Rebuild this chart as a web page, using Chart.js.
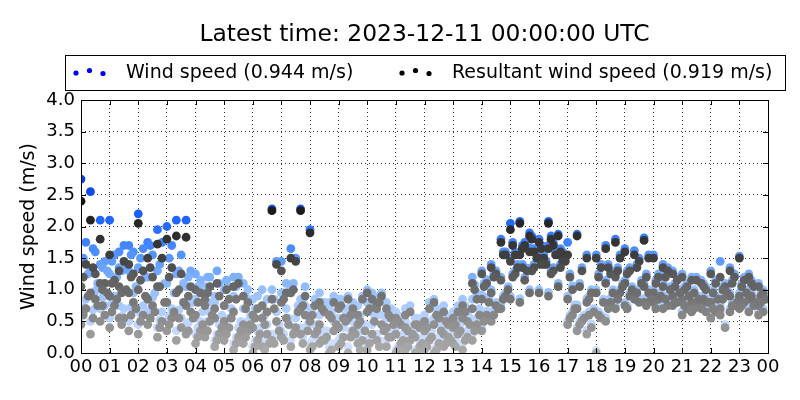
<!DOCTYPE html>
<html>
<head>
<meta charset="utf-8">
<script src="https://cdn.jsdelivr.net/npm/chart.js@4.4.0/dist/chart.umd.min.js"></script>
<style>html,body{margin:0;padding:0;background:#fff;}canvas{display:block;}</style>
</head>
<body>
<canvas id="c" width="800" height="400"></canvas>
<script>
// ---- text ----
const titleText = "Latest time: 2023-12-11 00:00:00 UTC";
const windLabel = "Wind speed (0.944 m/s)";
const resLabel = "Resultant wind speed (0.919 m/s)";
const yAxisLabel = "Wind speed (m/s)";
const xTickLabels = ["00","01","02","03","04","05","06","07","08","09","10","11","12","13","14","15","16","17","18","19","20","21","22","23","00"];
const yTickValues = [0.0,0.5,1.0,1.5,2.0,2.5,3.0,3.5,4.0];

// ---- sample times (hour of day) ----
const timesA = [0.00,0.33,0.67,1.00,1.33,1.67,2.00,2.33,2.67,3.00,3.33,3.67,4.00,4.33,4.67,5.00,5.33,5.67,6.00,6.33,6.67,7.00,7.33,7.67,8.00,8.33,8.67,9.00,9.33,9.67,10.00,10.33,10.67,11.00,11.33,11.67,12.00,12.33,12.67,13.00,13.33,13.67,14.00,14.33,14.67,15.00,15.33,15.67,16.00,16.33,16.67,17.00,17.33,17.67,18.00,18.33,18.67,19.00,19.33,19.67,20.00,20.33,20.67,21.00,21.33,21.67,22.00,22.33,22.67,23.00,23.33,23.67];
const timesB = [0.17,0.50,0.83,1.17,1.50,1.83,2.17,2.50,2.83,3.17,3.50,3.83,4.17,4.50,4.83,5.17,5.50,5.83,6.17,6.50,6.83,7.17,7.50,7.83,8.17,8.50,8.83,9.17,9.50,9.83,10.17,10.50,10.83,11.17,11.50,11.83,12.17,12.50,12.83,13.17,13.50,13.83,14.17,14.50,14.83,15.17,15.50,15.83,16.17,16.50,16.83,17.17,17.50,17.83,18.17,18.50,18.83,19.17,19.50,19.83,20.17,20.50,20.83,21.17,21.50,21.83,22.17,22.50,22.83,23.17,23.50,23.83];
const timesC = [0.08,0.42,0.75,1.08,1.42,1.75,2.08,2.42,2.75,3.08,3.42,3.75,4.08,4.42,4.75,5.08,5.42,5.75,6.08,6.42,6.75,7.08,7.42,7.75,8.08,8.42,8.75,9.08,9.42,9.75,10.08,10.42,10.75,11.08,11.42,11.75,12.08,12.42,12.75,13.08,13.42,13.75,14.08,14.42,14.75,15.08,15.42,15.75,16.08,16.42,16.75,17.08,17.42,17.75,18.08,18.42,18.75,19.08,19.42,19.75,20.08,20.42,20.75,21.08,21.42,21.75,22.08,22.42,22.75,23.08,23.42,23.75];
const timesD = [0.25,0.58,0.92,1.25,1.58,1.92,2.25,2.58,2.92,3.25,3.58,3.92,4.25,4.58,4.92,5.25,5.58,5.92,6.25,6.58,6.92,7.25,7.58,7.92,8.25,8.58,8.92,9.25,9.58,9.92,10.25,10.58,10.92,11.25,11.58,11.92,12.25,12.58,12.92,13.25,13.58,13.92,14.25,14.58,14.92,15.25,15.58,15.92,16.25,16.58,16.92,17.25,17.58,17.92,18.25,18.58,18.92,19.25,19.58,19.92,20.25,20.58,20.92,21.25,21.58,21.92,22.25,22.58,22.92,23.25,23.58,23.92];

// ---- resultant wind speed per day (m/s) ----
const res1 = [2.40,2.10,1.80, 1.55,1.30,1.40, 2.05,1.50,1.72, 1.80,1.85,1.83, 1.00,0.85,0.70, 0.75,1.05,0.90, 0.60,0.75,2.25, 1.30,1.50,2.25, 1.90,0.80,0.60, 0.70,0.85,0.60, 0.95,0.75,0.70, 0.55,0.60,0.45, 0.50,0.80,0.65, 0.55,0.75,1.10, 1.25,1.35,1.75, 1.95,2.05,1.85, 1.75,2.05,1.85, 1.55,1.85,1.50, 1.50,1.65,1.75, 1.60,1.55,1.78, 1.50,1.35,1.25, 1.20,1.15,1.10, 1.25,1.20,1.30, 1.50,1.20,1.05];
const res2 = [1.40,1.25,1.10, 1.15,1.45,1.25, 1.30,1.20,1.50, 1.35,1.25,1.05, 0.95,1.05,0.90, 0.85,1.10,0.80, 0.70,0.65,1.40, 0.95,1.45,0.90, 0.75,0.65,0.80, 0.55,0.70,0.85, 0.85,0.90,0.55, 0.45,0.65,0.40, 0.70,0.55,0.45, 0.65,0.50,0.85, 1.10,1.25,1.55, 1.55,1.70,1.60, 1.50,1.70,1.55, 1.00,1.30,0.95, 1.35,1.25,1.50, 1.30,1.45,1.50, 1.20,1.30,1.15, 1.05,1.15,1.00, 1.10,1.05,1.20, 1.15,1.05,0.95];
const res3 = [1.05,0.95,1.10, 0.90,1.05,0.95, 1.00,0.85,1.05, 0.80,0.95,0.75, 0.60,0.75,0.55, 0.50,0.65,0.45, 0.40,0.55,0.85, 0.80,0.95,0.70, 0.50,0.45,0.60, 0.40,0.55,0.45, 0.65,0.70,0.40, 0.30,0.40,0.25, 0.35,0.45,0.30, 0.40,0.55,0.70, 0.85,0.95,1.15, 1.45,1.55,1.60, 1.50,1.65,1.55, 0.85,0.70,0.80, 0.95,1.10,1.20, 1.10,0.90,1.05, 0.95,1.05,0.90, 0.85,0.80,0.75, 0.80,0.70,0.90, 0.90,0.85,0.75];
const res4 = [0.70,0.85,0.60, 0.75,0.55,0.80, 0.60,0.75,0.50, 0.55,0.40,0.65, 0.35,0.50,0.30, 0.40,0.25,0.35, 0.20,0.30,0.50, 0.55,0.40,0.60, 0.30,0.20,0.35, 0.25,0.35,0.20, 0.30,0.45,0.25, 0.15,0.20,0.10, 0.20,0.15,0.25, 0.30,0.25,0.45, 0.60,0.75,0.90, 1.25,1.15,1.35, 1.40,1.30,1.45, 0.60,0.50,0.40, 0.55,0.80,0.95, 0.90,0.80,0.95, 0.85,0.75,0.80, 0.70,0.75,0.65, 0.65,0.40,0.75, 0.80,0.75,0.65];
const res5 = [0.45,0.30,0.50, 0.40,0.55,0.35, 0.30,0.45,0.25, 0.35,0.20,0.30, 0.15,0.25,0.10, 0.20,0.05,0.15, 0.00,0.10,0.20, 0.25,0.10,0.30, 0.05,0.15,0.00, 0.10,0.00,0.15, 0.05,0.20,0.10, 0.00,0.05,0.00, 0.05,0.00,0.10, 0.15,0.05,0.20, 0.35,0.50,0.70, 0.85,0.80,0.95, 0.95,0.90,1.05, 0.45,0.35,0.30, 0.00,0.50,0.70, 0.75,0.85,0.80, 0.80,0.70,0.75, 0.60,0.65,0.70, 0.55,0.60,0.65, 0.70,0.65,0.60];
const res6 = [1.20,1.35,1.00, 1.10,0.95,1.20, 1.15,1.35,1.05, 1.20,1.00,0.90, 0.80,0.95,1.10, 1.00,0.85,0.70, 0.55,0.45,0.70, 0.85,1.00,0.75, 0.60,0.70,0.55, 0.75,0.60,0.50, 0.70,0.80,0.60, 0.50,0.35,0.45, 0.40,0.60,0.50, 0.45,0.65,1.00, 1.05,1.20,1.55, 1.70,1.65,1.80, 1.65,1.80,1.60, 1.20,1.05,0.85, 1.20,1.35,1.30, 1.25,1.35,1.20, 1.10,1.20,1.05, 1.00,0.95,1.05, 0.95,1.00,1.10, 1.05,1.10,0.90];
const res7 = [0.90,0.75,0.95, 0.85,1.00,0.70, 0.90,0.65,0.80, 0.65,0.80,0.55, 0.45,0.60,0.40, 0.55,0.35,0.45, 0.30,0.15,0.35, 0.45,0.65,0.35, 0.35,0.25,0.45, 0.50,0.30,0.35, 0.50,0.35,0.45, 0.20,0.30,0.15, 0.25,0.35,0.20, 0.35,0.45,0.60, 0.80,0.70,1.00, 1.35,1.30,1.50, 1.40,1.55,1.45, 0.70,0.55,0.65, 0.80,0.95,1.05, 1.00,1.10,0.85, 0.90,1.00,0.95, 0.90,0.85,0.80, 0.85,0.95,0.80, 0.95,0.80,0.85];
const res8 = [0.60,0.55,0.75, 0.65,0.45,0.60, 0.50,0.55,0.40, 0.45,0.55,0.35, 0.25,0.35,0.20, 0.30,0.15,0.25, 0.10,0.05,0.15, 0.20,0.30,0.15, 0.10,0.20,0.05, 0.15,0.25,0.05, 0.15,0.10,0.25, 0.05,0.10,0.00, 0.10,0.05,0.15, 0.10,0.20,0.35, 0.50,0.60,0.85, 1.20,1.35,1.30, 1.40,1.25,1.35, 0.55,0.45,0.60, 0.60,0.70,0.85, 0.70,0.95,0.75, 0.70,0.85,0.80, 0.75,0.70,0.85, 0.70,0.85,0.75, 0.75,0.90,0.80];

// ---- wind speed per day (m/s) ----
const wind1 = [2.75,2.55,2.10, 2.10,1.60,1.70, 2.20,1.75,1.95, 2.00,2.10,2.10, 1.25,1.05,0.90, 1.00,1.20,1.10, 0.85,1.00,2.28, 1.45,1.65,2.28, 1.95,0.95,0.80, 0.85,0.90,0.75, 1.00,0.85,0.80, 0.65,0.70,0.55, 0.60,0.85,0.75, 0.65,0.85,1.20, 1.30,1.40,1.80, 2.05,2.08,1.90, 1.80,2.08,1.88, 1.75,1.88,1.55, 1.55,1.70,1.80, 1.65,1.62,1.82, 1.55,1.40,1.30, 1.25,1.20,1.15, 1.30,1.45,1.35, 1.53,1.25,1.10];
const wind2 = [1.75,1.60,1.45, 1.55,1.70,1.60, 1.65,1.55,1.75, 1.70,1.55,1.30, 1.15,1.20,1.10, 1.05,1.20,1.00, 0.90,0.85,1.45, 1.10,1.50,1.05, 0.85,0.80,0.90, 0.70,0.80,0.90, 0.95,0.95,0.70, 0.55,0.75,0.50, 0.80,0.65,0.55, 0.75,0.60,0.95, 1.16,1.30,1.60, 1.60,1.75,1.65, 1.55,1.74,1.60, 1.06,1.35,1.00, 1.40,1.30,1.55, 1.35,1.50,1.55, 1.25,1.35,1.20, 1.10,1.20,1.05, 1.15,1.10,1.25, 1.20,1.10,1.00];
const wind3 = [1.45,1.30,1.40, 1.25,1.35,1.30, 1.35,1.20,1.30, 1.10,1.25,1.05, 0.85,1.00,0.80, 0.75,0.90,0.70, 0.60,0.75,1.00, 0.95,1.05,0.85, 0.65,0.60,0.75, 0.55,0.70,0.60, 0.80,0.85,0.55, 0.40,0.50,0.35, 0.45,0.55,0.40, 0.55,0.65,0.85, 0.92,1.00,1.20, 1.50,1.60,1.66, 1.55,1.70,1.60, 0.90,0.76,0.86, 1.00,1.15,1.25, 1.15,0.96,1.10, 1.00,1.10,0.95, 0.90,0.86,0.80, 0.86,0.76,0.95, 0.95,0.90,0.80];
const wind4 = [0.85,0.98,0.75, 0.90,0.70,0.95, 0.75,0.88,0.65, 0.70,0.55,0.80, 0.50,0.65,0.45, 0.55,0.40,0.50, 0.35,0.45,0.65, 0.70,0.55,0.75, 0.45,0.35,0.50, 0.40,0.50,0.35, 0.45,0.60,0.40, 0.25,0.30,0.20, 0.30,0.25,0.35, 0.40,0.35,0.55, 0.66,0.80,0.95, 1.30,1.20,1.40, 1.45,1.35,1.50, 0.65,0.56,0.46, 0.60,0.86,1.00, 0.95,0.86,1.00, 0.90,0.80,0.86, 0.75,0.80,0.70, 0.70,0.45,0.80, 0.86,0.80,0.70];
const wind5 = [0.65,0.50,0.70, 0.55,0.75,0.50, 0.45,0.65,0.40, 0.50,0.35,0.45, 0.30,0.40,0.20, 0.35,0.15,0.25, 0.10,0.20,0.30, 0.35,0.20,0.40, 0.15,0.25,0.10, 0.20,0.10,0.25, 0.15,0.30,0.20, 0.05,0.15,0.05, 0.10,0.05,0.20, 0.25,0.15,0.30, 0.40,0.56,0.76, 0.90,0.86,1.00, 1.00,0.96,1.10, 0.50,0.40,0.36, 0.04,0.56,0.76, 0.80,0.90,0.86, 0.86,0.76,0.80, 0.66,0.70,0.76, 0.60,0.66,0.70, 0.76,0.70,0.66];
const wind6 = [1.50,1.65,1.35, 1.45,1.30,1.55, 1.50,1.70,1.40, 1.50,1.30,1.20, 1.05,1.20,1.30, 1.15,1.05,0.90, 0.70,0.60,0.85, 0.95,1.10,0.85, 0.70,0.80,0.65, 0.85,0.70,0.60, 0.80,0.90,0.70, 0.60,0.45,0.55, 0.50,0.70,0.60, 0.55,0.75,1.08, 1.10,1.25,1.60, 1.75,1.70,1.85, 1.70,1.85,1.65, 1.25,1.10,0.90, 1.25,1.40,1.35, 1.30,1.40,1.25, 1.15,1.25,1.10, 1.05,1.00,1.10, 1.00,1.05,1.15, 1.10,1.15,0.95];
const wind7 = [1.25,1.10,1.30, 1.20,1.35,1.05, 1.20,0.95,1.10, 0.95,1.10,0.80, 0.65,0.80,0.60, 0.70,0.50,0.60, 0.40,0.25,0.45, 0.55,0.75,0.45, 0.45,0.35,0.55, 0.60,0.40,0.45, 0.60,0.45,0.55, 0.30,0.40,0.25, 0.35,0.45,0.30, 0.45,0.55,0.70, 0.88,0.76,1.05, 1.40,1.34,1.55, 1.45,1.60,1.50, 0.76,0.60,0.70, 0.85,1.00,1.10, 1.05,1.15,0.90, 0.95,1.05,1.00, 0.95,0.90,0.85, 0.90,1.00,0.85, 1.00,0.85,0.90];
const wind8 = [0.72,0.68,0.88, 0.78,0.58,0.72, 0.62,0.68,0.52, 0.58,0.68,0.48, 0.40,0.50,0.30, 0.40,0.25,0.35, 0.20,0.10,0.25, 0.30,0.40,0.25, 0.20,0.30,0.15, 0.25,0.35,0.15, 0.25,0.20,0.35, 0.10,0.20,0.05, 0.20,0.10,0.25, 0.20,0.30,0.45, 0.58,0.68,0.90, 1.25,1.40,1.35, 1.45,1.30,1.40, 0.60,0.50,0.65, 0.65,0.75,0.90, 0.75,1.00,0.80, 0.75,0.90,0.85, 0.80,0.75,0.90, 0.75,0.90,0.80, 0.80,0.95,0.85];

const dayTimes = [timesA, timesB, timesA, timesB, timesA, timesC, timesD, timesC];
const windDays = [wind1, wind2, wind3, wind4, wind5, wind6, wind7, wind8];
const resDays = [res1, res2, res3, res4, res5, res6, res7, res8];

// ---- colour ramps (value -> colour) ----
const greyStops = [[0,[172,172,172]],[0.5,[142,142,142]],[0.75,[124,124,124]],[1.0,[106,106,106]],[1.25,[88,88,88]],[1.5,[64,64,64]],[2.0,[40,40,40]],[2.5,[15,15,15]]];
const blueStops = [[0,[214,228,255]],[0.5,[188,212,255]],[1.0,[150,192,255]],[1.5,[88,152,255]],[2.0,[38,108,255]],[2.5,[16,76,240]],[3.0,[0,50,220]]];
function ramp(stops, v) {
  if (v <= stops[0][0]) return stops[0][1];
  for (let i = 1; i < stops.length; i++) {
    if (v <= stops[i][0]) {
      const a = stops[i-1], b = stops[i];
      const f = (v - a[0]) / (b[0] - a[0]);
      return a[1].map((c, k) => Math.round(c + (b[1][k] - c) * f));
    }
  }
  return stops[stops.length-1][1];
}
const rgb = c => `rgb(${c[0]},${c[1]},${c[2]})`;

function pts(times, vals) {
  const out = [];
  for (let i = 0; i < times.length; i++) if (vals[i] != null) out.push({x: times[i], y: vals[i]});
  return out;
}

const datasets = [];
let ord = 0;
// resultant drawn over wind speed (lower order = drawn later)
for (let d = resDays.length - 1; d >= 0; d--) {
  datasets.push({label: resLabel, data: pts(dayTimes[d], resDays[d]), order: ord++,
    backgroundColor: ctx => rgb(ramp(greyStops, ctx.raw ? ctx.raw.y : 0)),
    pointRadius: 4.4, pointBorderWidth: 0, borderWidth: 0, clip: 0});
}
for (let d = windDays.length - 1; d >= 0; d--) {
  datasets.push({label: windLabel, data: pts(dayTimes[d], windDays[d]), order: ord++,
    backgroundColor: ctx => rgb(ramp(blueStops, ctx.raw ? ctx.raw.y : 0)),
    pointRadius: 4.4, pointBorderWidth: 0, borderWidth: 0, clip: 0});
}

const FONT = "'DejaVu Sans', sans-serif";

const decor = {
  id: 'decor',
  afterDraw(chart) {
    const ctx = chart.ctx, a = chart.chartArea;
    const xs = chart.scales.x, ys = chart.scales.y;
    ctx.save();
    ctx.strokeStyle = '#000'; ctx.lineWidth = 1; ctx.setLineDash([]);
    ctx.beginPath();
    for (let h = 0; h <= 24; h++) {
      const px = Math.round(xs.getPixelForValue(h)) + 0.5;
      ctx.moveTo(px, a.bottom); ctx.lineTo(px, a.bottom - 5);
      ctx.moveTo(px, a.top); ctx.lineTo(px, a.top + 5);
    }
    for (const v of yTickValues) {
      const py = Math.round(ys.getPixelForValue(v)) + 0.5;
      ctx.moveTo(a.left, py); ctx.lineTo(a.left + 5, py);
      ctx.moveTo(a.right, py); ctx.lineTo(a.right - 5, py);
    }
    ctx.stroke();
    ctx.strokeRect(Math.round(a.left) + 0.5, Math.round(a.top) + 0.5, Math.round(a.right - a.left), Math.round(a.bottom - a.top));
    // title
    ctx.fillStyle = '#000';
    ctx.font = `23.4px ${FONT}`;
    ctx.textAlign = 'center'; ctx.textBaseline = 'middle';
    ctx.fillText(titleText, (a.left + a.right) / 2, 35);
    // legend
    ctx.strokeRect(65.5, 55.5, 720, 35);
    ctx.font = `19px ${FONT}`;
    ctx.textAlign = 'left';
    const dots = (x0, col) => {
      ctx.fillStyle = col;
      [[0, 73], [13.5, 70.5], [27, 73.5]].forEach(([dx, y]) => {
        ctx.beginPath(); ctx.arc(x0 + dx, y, 2.6, 0, Math.PI * 2); ctx.fill();
      });
    };
    dots(76, '#0000ff');
    dots(402, '#000000');
    ctx.fillStyle = '#000';
    ctx.fillText(windLabel, 126, 73);
    ctx.fillText(resLabel, 452, 73);
    // y axis title
    ctx.save();
    ctx.translate(29, (a.top + a.bottom) / 2);
    ctx.rotate(-Math.PI / 2);
    ctx.textAlign = 'center'; ctx.textBaseline = 'middle';
    ctx.font = `19px ${FONT}`;
    ctx.fillText(yAxisLabel, 0, 0);
    ctx.restore();
    ctx.restore();
  }
};

new Chart(document.getElementById('c'), {
  type: 'scatter',
  data: {datasets},
  options: {
    responsive: false, animation: false,
    layout: {padding: {top: 100, right: 32, left: 0, bottom: 0}},
    plugins: {legend: {display: false}, title: {display: false}, tooltip: {enabled: false}},
    scales: {
      x: {
        type: 'linear', min: 0, max: 24,
        afterFit: s => { s.height = 47; },
        afterBuildTicks: s => { s.ticks = xTickLabels.map((_, i) => ({value: i})); },
        ticks: {autoSkip: false, maxRotation: 0, minRotation: 0, padding: 4, color: '#000',
          font: {family: FONT, size: 18},
          callback: (v) => xTickLabels[v]},
        grid: {color: '#000', lineWidth: 0.8, drawTicks: false},
        border: {display: false, dash: [1, 3]}
      },
      y: {
        min: 0, max: 4,
        afterFit: s => { s.width = 81; },
        afterBuildTicks: s => { s.ticks = yTickValues.map(v => ({value: v})); },
        ticks: {padding: 6, color: '#000', font: {family: FONT, size: 18},
          callback: v => Number(v).toFixed(1)},
        grid: {color: '#000', lineWidth: 0.8, drawTicks: false},
        border: {display: false, dash: [1, 3]}
      }
    }
  },
  plugins: [decor]
});
</script>
</body>
</html>
